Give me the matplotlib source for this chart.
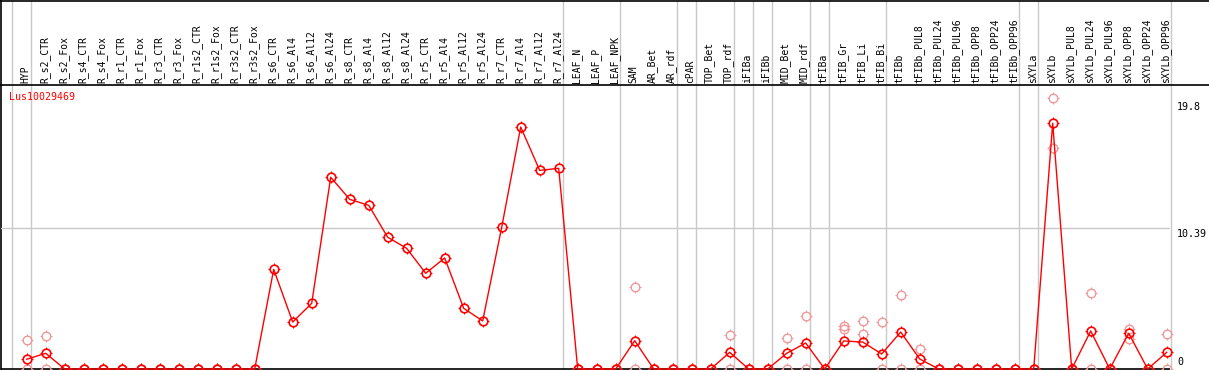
import numpy as np
import matplotlib
matplotlib.use("Agg")
import matplotlib.pyplot as plt
from matplotlib.path import Path

# -----------------------------------
# data
# -----------------------------------
gene = "Lus10029469"

samples = ["HYP",
           "R_s2_CTR", "R_s2_Fox", "R_s4_CTR", "R_s4_Fox", "R_r1_CTR", "R_r1_Fox",
           "R_r3_CTR", "R_r3_Fox", "R_r1s2_CTR", "R_r1s2_Fox", "R_r3s2_CTR", "R_r3s2_Fox",
           "R_s6_CTR", "R_s6_Al4", "R_s6_Al12", "R_s6_Al24",
           "R_s8_CTR", "R_s8_Al4", "R_s8_Al12", "R_s8_Al24",
           "R_r5_CTR", "R_r5_Al4", "R_r5_Al12", "R_r5_Al24",
           "R_r7_CTR", "R_r7_Al4", "R_r7_Al12", "R_r7_Al24",
           "LEAF_N", "LEAF_P", "LEAF_NPK", "SAM", "AR_Bet", "AR_rdf", "cPAR",
           "TOP_Bet", "TOP_rdf", "iFIBa", "iFIBb", "MID_Bet", "MID_rdf", "tFIBa",
           "tFIB_Gr", "tFIB_Li", "tFIB_Bi", "tFIBb",
           "tFIBb_PUL8", "tFIBb_PUL24", "tFIBb_PUL96", "tFIBb_OPP8", "tFIBb_OPP24", "tFIBb_OPP96",
           "sXYLa", "sXYLb",
           "sXYLb_PUL8", "sXYLb_PUL24", "sXYLb_PUL96", "sXYLb_OPP8", "sXYLb_OPP24", "sXYLb_OPP96"]

# mean expression per sample
means = [0.72,
         1.16, 0, 0, 0, 0, 0, 0, 0, 0, 0, 0, 0,
         7.36, 3.47, 4.85, 14.16,
         12.53, 12.09, 9.73, 8.91,
         7.07, 8.20, 4.48, 3.55,
         10.47, 17.87, 14.67, 14.82,
         0, 0, 0, 2.09, 0, 0, 0,
         0, 1.23, 0, 0, 1.16, 1.92, 0,
         2.07, 1.99, 1.11, 2.73,
         0.74, 0, 0, 0, 0, 0,
         0, 18.15,
         0, 2.81, 0, 2.64, 0, 1.23]

nan = np.nan
# individual replicates (nan = no replicate)
rep_a = [2.14,
         2.41, 0, 0, 0, 0, 0, 0, 0, 0, 0, 0, 0,
         nan, nan, nan, nan, nan, nan, nan, nan,
         nan, nan, nan, nan, nan, nan, nan, nan,
         0, 0, 0, 6.06, 0, 0, 0,
         0, 2.49, 0, 0, 2.31, 3.89, 0,
         3.15, 3.54, 3.47, 5.47,
         1.48, 0, 0, 0, 0, 0,
         0, 19.99,
         0, 5.59, 0, 2.95, 0, 2.56]
rep_b = [0,
         0, 0, 0, 0, 0, 0, 0, 0, 0, 0, 0, 0,
         nan, nan, nan, nan, nan, nan, nan, nan,
         nan, nan, nan, nan, nan, nan, nan, nan,
         0, 0, 0, 0, 0, 0, 0,
         0, 0, 0, 0, 0, 0, 0,
         2.93, 2.58, 0, 0,
         0, 0, 0, 0, 0, 0,
         0, 16.30,
         0, 0, 0, 2.20, 0, 0]

# index of last sample in each group (separator drawn after it)
group_ends = [-1, 0, 28, 31, 34, 35, 37, 38, 39, 41, 42, 45, 52, 53, 60]
yticks = [19.8, 10.39, 0]
grid_y = 10.39

# -----------------------------------
# layout (pixels)
# -----------------------------------
W, H = 1209, 370
X0, DX = 26.7, 19.0       # x of first column, column step
PXU = 13.54                # pixels per unit
PLOT_L, PLOT_R = 1, 1170
PLOT_T, PLOT_B = 85, 369

RED = "#ff0000"
PINK = "#f09898"
GRAY = "#c8c8c8"
FONT = "DejaVu Sans Mono"

def to_idx(px):
    return (px - X0) / DX

# four short ticks sitting just outside the circle marker
tick_verts = [(1.0, 0), (1.3, 0), (-1.0, 0), (-1.3, 0),
              (0, 1.0), (0, 1.3), (0, -1.0), (0, -1.3)]
tick_codes = [Path.MOVETO, Path.LINETO] * 4
tick_mk = Path(tick_verts, tick_codes)

fig = plt.figure(figsize=(W / 100, H / 100), dpi=100)

# background axes: full figure, x in column index, y in pixels
bg = fig.add_axes([0, 0, 1, 1])
bg.set_xlim(to_idx(0), to_idx(W))
bg.set_ylim(H, 0)
bg.axis("off")

sep_x = [g + 4 / DX for g in group_ends]
bg.vlines(sep_x, 0, H, color=GRAY, lw=1.0)
bg.hlines([0.5, PLOT_T], to_idx(0), to_idx(W), color="black", lw=1.2)
bg.hlines(PLOT_B, to_idx(PLOT_L), to_idx(PLOT_R), color="black", lw=1.2)
bg.vlines(to_idx(1.5), 0, H, color="black", lw=1.2)

for i, name in enumerate(samples):
    bg.text(i - 0.06, PLOT_T - 2, name, rotation=90, ha="center", va="bottom",
            fontsize=7, family=FONT, color="black")

bg.text(to_idx(9), 97.5, gene, ha="left", va="center", fontsize=7.2,
        family=FONT, color=RED)

# data axes
ax = fig.add_axes([PLOT_L / W, (H - PLOT_B) / H, (PLOT_R - PLOT_L) / W, (PLOT_B - PLOT_T) / H])
ax.set_xlim(to_idx(PLOT_L), to_idx(PLOT_R))
ax.set_ylim(0, (PLOT_B - PLOT_T) / PXU)
ax.axis("off")
ax.patch.set_alpha(0)

ax.axhline(grid_y, color=GRAY, lw=1.0, zorder=0)

x = np.arange(len(samples))
for reps in (rep_b, rep_a):
    ax.plot(x, reps, ls="none", marker="o", ms=6.2, mfc="none", mec=PINK,
            mew=1.0, clip_on=False, zorder=2)
    ax.plot(x, reps, ls="none", marker=tick_mk, ms=8.0, mec=PINK,
            mew=0.7, clip_on=False, zorder=2)

ax.plot(x, means, color=RED, lw=1.0, marker="o", ms=6.2, mfc="none", mec=RED,
        mew=1.2, clip_on=False, zorder=3)
ax.plot(x, means, ls="none", marker=tick_mk, ms=8.0, mec=RED, mew=0.8,
        clip_on=False, zorder=3)

for v in yticks:
    if v == 0:
        dy, va = 2, "bottom"
    else:
        dy, va = -1, "top"
    ax.annotate(f"{v:g}", xy=(1, v), xycoords=("axes fraction", "data"),
                xytext=(7, dy), textcoords="offset pixels", ha="left", va=va,
                fontsize=7.2, family=FONT, color="black", annotation_clip=False)

fig.savefig("out.png", dpi=100)
